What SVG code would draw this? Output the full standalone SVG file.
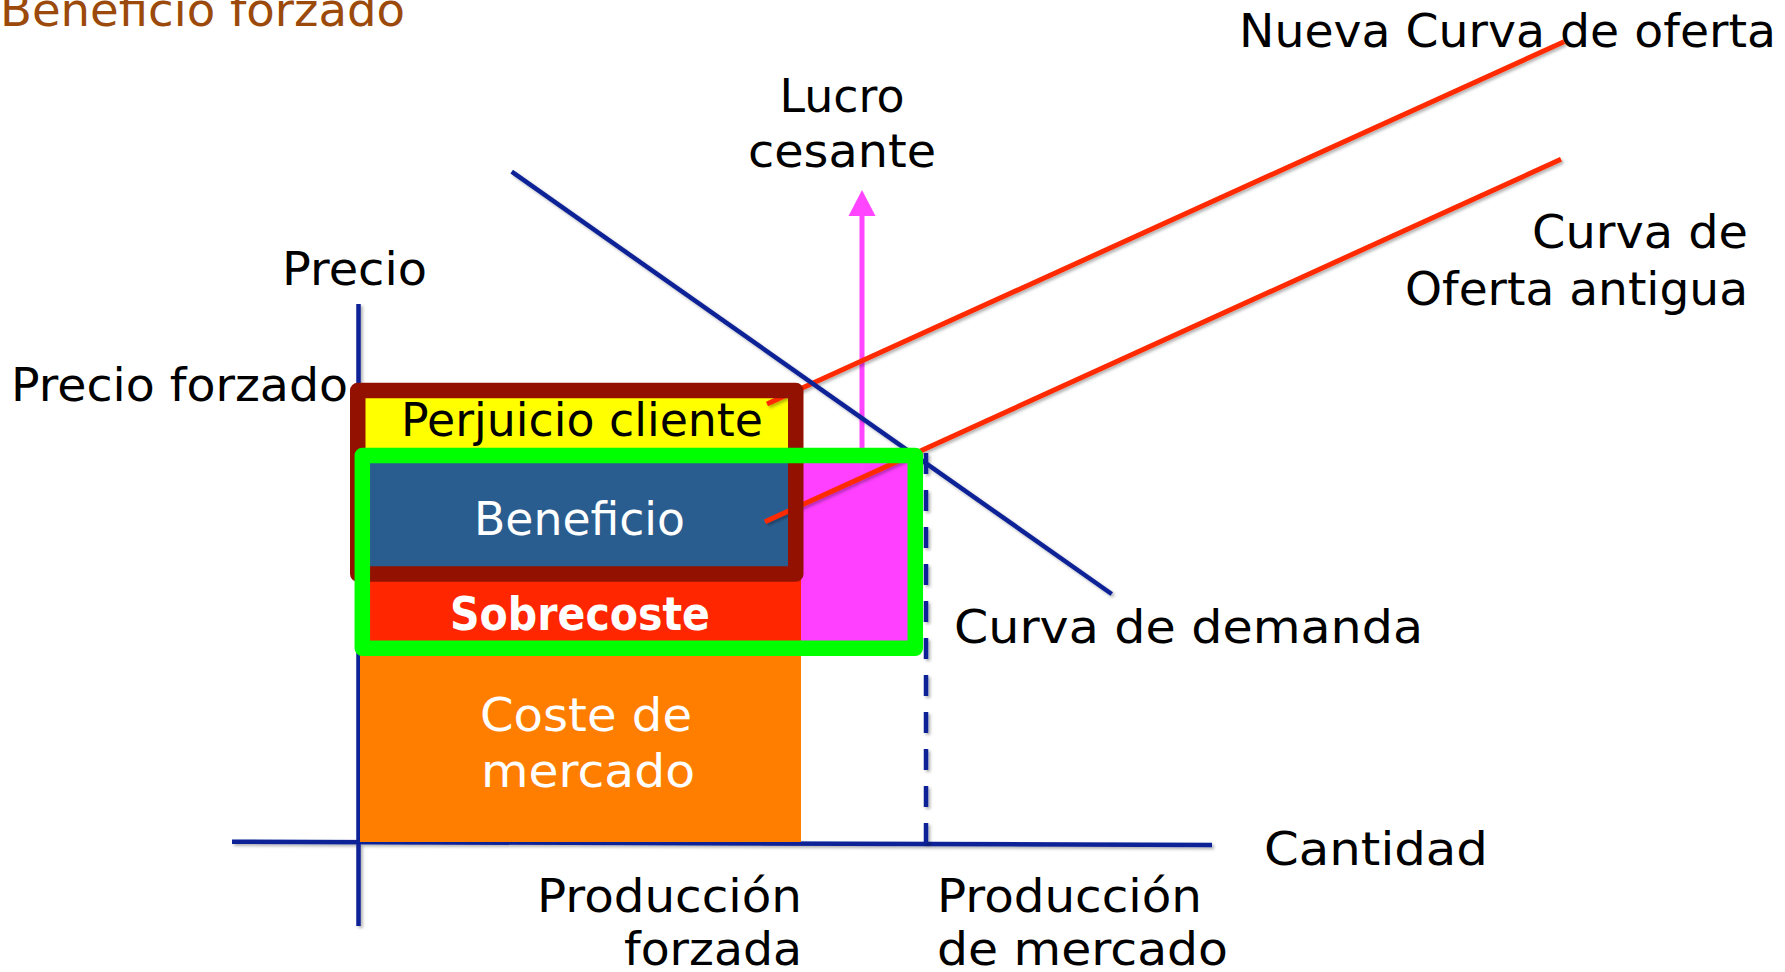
<svg xmlns="http://www.w3.org/2000/svg" width="1785" height="972" viewBox="0 0 1785 972">
<style>
text{font-family:"DejaVu Sans","Liberation Sans",sans-serif;font-size:46px;fill:#000}
.w{fill:#fff}
.b{font-weight:bold}
.navy{stroke:#0B2196;stroke-width:4.5;fill:none}
.red{stroke:#FF2A00;stroke-width:5;fill:none}
</style>
<defs>
<filter id="sh" x="-10%" y="-10%" width="120%" height="120%">
<feDropShadow dx="2" dy="2" stdDeviation="1.5" flood-color="#000" flood-opacity="0.3"/>
</filter>
</defs>
<rect width="1785" height="972" fill="#fff"/>
<text id="title" x="0" y="26" textLength="405" lengthAdjust="spacingAndGlyphs" style="fill:#9B4A0B">Beneficio forzado</text>
<g id="axes" filter="url(#sh)">
<line class="navy" x1="358.5" y1="304" x2="358.5" y2="926"/>
<line class="navy" x1="232" y1="841.7" x2="1212" y2="845"/>
</g>
<g id="coste-mercado">
<rect x="360" y="648" width="441" height="194" fill="#FF7E00"/>
<text class="w" x="586" y="731" text-anchor="middle" textLength="212" lengthAdjust="spacingAndGlyphs">Coste de</text>
<text class="w" x="588" y="787" text-anchor="middle" textLength="214" lengthAdjust="spacingAndGlyphs">mercado</text>
</g>
<g id="sobrecoste">
<rect x="362" y="567" width="439" height="82" fill="#FF2600"/>
</g>
<g id="lucro-area">
<rect x="801" y="456" width="115" height="193" fill="#FF40FF"/>
</g>
<g id="perjuicio">
<rect x="364" y="396" width="426" height="62" fill="#FFFF00"/>
</g>
<g id="beneficio">
<rect x="364" y="456" width="426" height="112" fill="#2A5D8F"/>
</g>
<g id="connectors">
<line x1="862" y1="488" x2="862" y2="214" stroke="#FF45FF" stroke-width="5"/>
<polygon points="862,190 875.5,216 848.5,216" fill="#FF45FF"/>
<g filter="url(#sh)">
<line class="red" x1="767" y1="404" x2="1564" y2="41.7"/>
<line class="red" x1="765" y1="521.7" x2="1561" y2="159.3"/>
<line class="navy" x1="511.7" y1="171.7" x2="1111.7" y2="594"/>
<line class="navy" x1="926" y1="453" x2="926" y2="846" stroke-dasharray="21 16"/>
</g>
</g>
<g id="forzado-box">
<rect x="357.75" y="390.5" width="438" height="183.5" fill="none" stroke="#921100" stroke-width="15.5" stroke-linejoin="round"/>
</g>
<g id="mercado-box">
<rect x="362.3" y="455.5" width="553" height="192.8" fill="none" stroke="#00FF00" stroke-width="15.5" stroke-linejoin="round"/>
</g>
<g id="labels">
<text x="582" y="436" text-anchor="middle" textLength="362" lengthAdjust="spacingAndGlyphs">Perjuicio cliente</text>
<text class="w" x="579.5" y="535" text-anchor="middle" textLength="211" lengthAdjust="spacingAndGlyphs">Beneficio</text>
<text class="w b" x="580" y="630" text-anchor="middle" textLength="260" lengthAdjust="spacingAndGlyphs">Sobrecoste</text>
<text x="1239" y="47" textLength="537" lengthAdjust="spacingAndGlyphs">Nueva Curva de oferta</text>
<text x="842" y="112" text-anchor="middle" textLength="125" lengthAdjust="spacingAndGlyphs">Lucro</text>
<text x="842" y="167" text-anchor="middle" textLength="188" lengthAdjust="spacingAndGlyphs">cesante</text>
<text x="282" y="285" textLength="145" lengthAdjust="spacingAndGlyphs">Precio</text>
<text x="1748" y="248" text-anchor="end" textLength="216" lengthAdjust="spacingAndGlyphs">Curva de</text>
<text x="1748" y="305" text-anchor="end" textLength="343" lengthAdjust="spacingAndGlyphs">Oferta antigua</text>
<text x="11" y="401" textLength="337" lengthAdjust="spacingAndGlyphs">Precio forzado</text>
<text x="954" y="643" textLength="469" lengthAdjust="spacingAndGlyphs">Curva de demanda</text>
<text x="1264" y="865" textLength="224" lengthAdjust="spacingAndGlyphs">Cantidad</text>
<text x="802" y="912" text-anchor="end" textLength="265" lengthAdjust="spacingAndGlyphs">Producción</text>
<text x="802" y="965" text-anchor="end" textLength="178" lengthAdjust="spacingAndGlyphs">forzada</text>
<text x="937" y="912" textLength="265" lengthAdjust="spacingAndGlyphs">Producción</text>
<text x="937" y="965" textLength="291" lengthAdjust="spacingAndGlyphs">de mercado</text>
</g>
</svg>
